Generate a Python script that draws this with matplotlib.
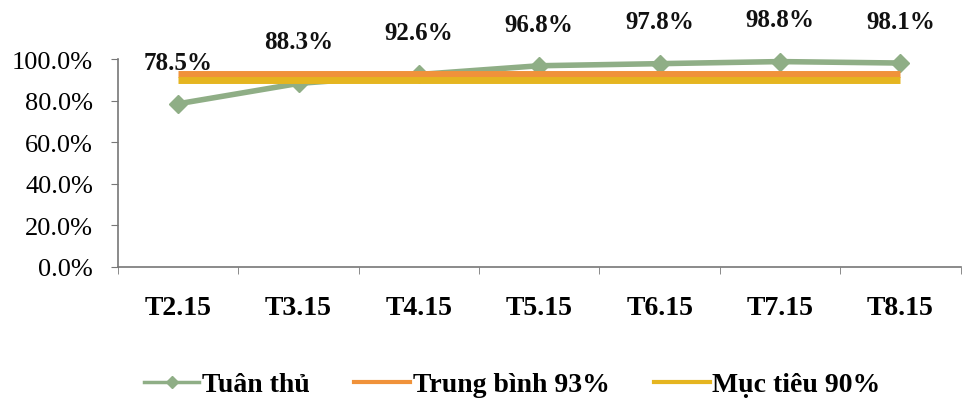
import matplotlib.pyplot as plt
from matplotlib.lines import Line2D
import numpy as np

plt.rcParams['font.family'] = ['Liberation Serif', 'DejaVu Serif']

months = ['T2.15', 'T3.15', 'T4.15', 'T5.15', 'T6.15', 'T7.15', 'T8.15']
compliance = [78.5, 88.3, 92.6, 96.8, 97.8, 98.8, 98.1]
average = [93, 93, 93, 93, 93, 93, 93]
target = [90, 90, 90, 90, 90, 90, 90]

GREEN = '#8fae86'
ORANGE = '#f0923a'
YELLOW = '#e5b520'


def main():
    fig = plt.figure(figsize=(9.63, 4.06), dpi=100)
    ax = fig.add_axes([0.1225, 0.34, 0.875, 0.512])

    x = np.arange(len(months))
    ax.plot(x, compliance, color=GREEN, lw=4, marker='D', ms=9,
            mfc=GREEN, mec=GREEN, zorder=2, clip_on=False)
    ax.plot(x, average, color=ORANGE, lw=5, solid_capstyle='butt', zorder=3)
    ax.plot(x, target, color=YELLOW, lw=5, solid_capstyle='butt', zorder=4)

    for xi, v in zip(x, compliance):
        ax.annotate(f'{v:.1f}%', (xi, v), xytext=(0, 30),
                    textcoords='offset points', ha='center', va='center',
                    fontsize=18, fontweight='bold', color='#111111')

    ax.set_xlim(-0.5, len(months) - 0.5)
    ax.set_ylim(0, 100)
    ax.set_yticks(np.arange(0, 101, 20))
    ax.set_yticklabels([f'{v:.1f}%' for v in range(0, 101, 20)], fontsize=19)
    ax.set_xticks(x)
    ax.set_xticklabels(months, fontsize=20, fontweight='bold')
    ax.set_xticks(np.arange(-0.5, len(months), 1), minor=True)
    ax.tick_params(axis='x', which='major', length=0, pad=20)
    ax.tick_params(axis='x', which='minor', length=5, color='#777777',
                   direction='out')
    ax.tick_params(axis='y', length=5, color='#777777', pad=13)

    for side in ['top', 'right']:
        ax.spines[side].set_visible(False)
    for side in ['left', 'bottom']:
        ax.spines[side].set_color('#777777')
        ax.spines[side].set_linewidth(1.2)

    handles = [
        Line2D([], [], color=GREEN, lw=2.5, marker='D', ms=6),
        Line2D([], [], color=ORANGE, lw=3),
        Line2D([], [], color=YELLOW, lw=3),
    ]
    labels = ['Tuân thủ', 'Trung bình 93%', 'Mục tiêu 90%']
    fig.legend(handles, labels, loc='center', bbox_to_anchor=(0.532, 0.05),
               ncol=3, frameon=False, handlelength=2.0, handletextpad=0.1,
               columnspacing=1.6, prop={'size': 20, 'weight': 'bold'})

    fig.savefig('out.png', dpi=100)


if __name__ == '__main__':
    main()
